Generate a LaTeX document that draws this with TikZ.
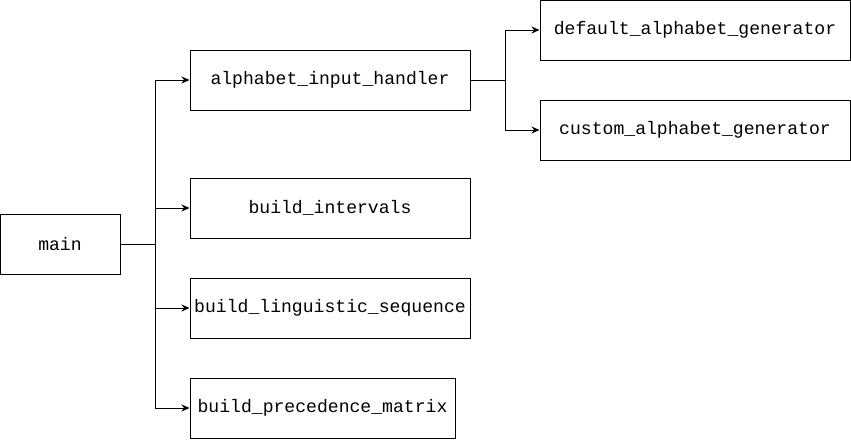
\documentclass[tikz,border=0pt]{standalone}
\usepackage{fontspec}
\setmonofont{Liberation Mono}
\usetikzlibrary{arrows.meta}

\begin{document}
\begin{tikzpicture}[x=1pt, y=-1pt, >={Stealth[length=8pt,width=7pt]}, line width=1pt,
    fn/.style={draw, rectangle, minimum height=60pt, inner sep=0pt,
        font=\ttfamily\fontsize{18.1}{20}\selectfont}]
    \useasboundingbox (0,0) rectangle (851,440);

    % functions
    \node[fn, minimum width=120pt] (main) at (60,244) {main};
    \node[fn, minimum width=280pt] (aih) at (330,80) {alphabet\_input\_handler};
    \node[fn, minimum width=280pt] (bi) at (330,208) {build\_intervals};
    \node[fn, minimum width=280pt] (bls) at (330,308) {build\_linguistic\_sequence};
    \node[fn, minimum width=265pt] (bpm) at (322.5,408) {build\_precedence\_matrix};
    \node[fn, minimum width=310pt] (dag) at (695,30) {default\_alphabet\_generator};
    \node[fn, minimum width=310pt] (cag) at (695,130) {custom\_alphabet\_generator};

    % calls
    \foreach \callee in {aih, bi, bls, bpm}
        \draw[->] (main.east) -- ++(35,0) |- (\callee.west);
    \foreach \callee in {dag, cag}
        \draw[->] (aih.east) -- ++(35,0) |- (\callee.west);
\end{tikzpicture}
\end{document}
